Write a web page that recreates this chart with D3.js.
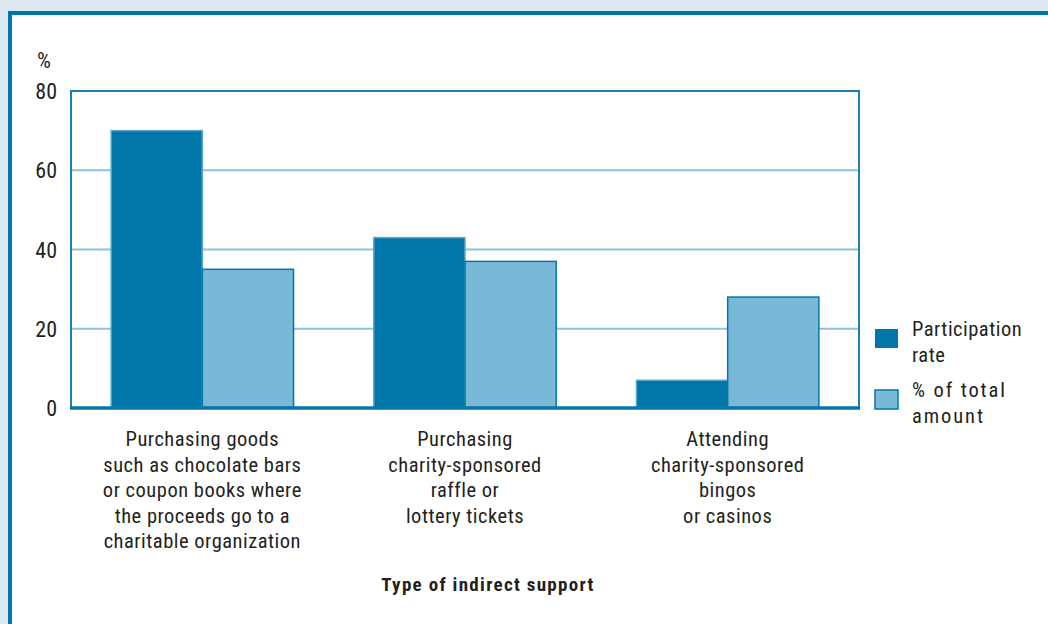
<!DOCTYPE html>
<html>
<head>
<meta charset="utf-8">
<script src="https://cdn.jsdelivr.net/npm/d3@7"></script>
<style>
  body { margin: 0; background: #dce9f3; }
  svg { display: block; }
  text { font-family: "Liberation Sans Narrow", "Roboto Condensed", Roboto, sans-serif; fill: #231f20; }
</style>
</head>
<body>
<script>
var width = 1048, height = 624;
var margin = {top: 91, left: 71, right: 189, bottom: 216};
var plotW = width - margin.left - margin.right;   // 788
var plotH = 408 - margin.top;                      // 317

// data
var categories = [
  ["Purchasing goods", "such as chocolate bars", "or coupon books where", "the proceeds go to a", "charitable organization"],
  ["Purchasing", "charity-sponsored", "raffle or", "lottery tickets"],
  ["Attending", "charity-sponsored", "bingos", "or casinos"]
];
var seriesNames = ["Participation rate", "% of total amount"];
var participation = [70, 43, 7];
var totalAmount = [35, 37, 28];
var yTicks = [0, 20, 40, 60, 80];

var colors = ["#0077a8", "#7ab8d8"];

var svg = d3.select("body").append("svg")
  .attr("width", width)
  .attr("height", height);

// outer frame
svg.append("rect")
  .attr("x", 10).attr("y", 13)
  .attr("width", 1100).attr("height", 700)
  .attr("fill", "#ffffff")
  .attr("stroke", "#0077a8")
  .attr("stroke-width", 4);

var g = svg.append("g")
  .attr("transform", "translate(" + margin.left + "," + margin.top + ")");

var x0 = d3.scaleBand()
  .domain(d3.range(categories.length))
  .range([0, plotW]);

var x1 = d3.scaleBand()
  .domain([0, 1])
  .range([0, x0.bandwidth()])
  .paddingOuter(0.44)
  .paddingInner(0);

var y = d3.scaleLinear()
  .domain([0, 80])
  .range([plotH, 0]);

// gridlines
g.selectAll(".grid")
  .data(yTicks.filter(function(d){ return d > 0 && d < 80; }))
  .enter().append("line")
  .attr("x1", 0).attr("x2", plotW)
  .attr("y1", function(d){ return y(d); })
  .attr("y2", function(d){ return y(d); })
  .attr("stroke", "#8cc4de")
  .attr("stroke-width", 2);

// bars
var rows = categories.map(function(c, i){
  return [participation[i], totalAmount[i]];
});

var groups = g.selectAll(".group")
  .data(rows)
  .enter().append("g")
  .attr("transform", function(d, i){ return "translate(" + x0(i) + ",0)"; });

groups.selectAll("rect")
  .data(function(d){ return d; })
  .enter().append("rect")
  .attr("x", function(d, j){ return x1(j); })
  .attr("y", function(d){ return y(d); })
  .attr("width", x1.bandwidth())
  .attr("height", function(d){ return plotH - y(d); })
  .attr("fill", function(d, j){ return colors[j]; })
  .attr("stroke", function(d, j){ return j === 0 ? "#5aa8cf" : "#0077a8"; })
  .attr("stroke-width", 1.5);

// plot frame
g.append("rect")
  .attr("x", 0).attr("y", 0)
  .attr("width", plotW).attr("height", plotH)
  .attr("fill", "none")
  .attr("stroke", "#1a80b2")
  .attr("stroke-width", 2);

// bottom axis line
g.append("line")
  .attr("x1", -1).attr("x2", plotW + 1)
  .attr("y1", plotH).attr("y2", plotH)
  .attr("stroke", "#0077a8")
  .attr("stroke-width", 3.5);

// y axis labels
var yAxis = d3.axisLeft(y)
  .tickValues(yTicks)
  .tickSize(0)
  .tickPadding(14);

g.append("g")
  .call(yAxis)
  .call(function(s){ s.select(".domain").remove(); })
  .selectAll("text")
  .style("font-size", "22px")
  .attr("dy", "0.35em")
  .attr("fill", "#231f20");

g.append("text")
  .attr("x", -34).attr("y", -23)
  .attr("text-anchor", "start")
  .style("font-size", "22px")
  .text("%");

// category labels
var labels = g.selectAll(".cat")
  .data(categories)
  .enter().append("text")
  .attr("text-anchor", "middle")
  .attr("transform", function(d, i){ return "translate(" + (x0(i) + x0.bandwidth() / 2) + "," + (plotH + 38) + ")"; })
  .style("font-size", "20.5px")
  .style("letter-spacing", "0.5px");

labels.selectAll("tspan")
  .data(function(d){ return d; })
  .enter().append("tspan")
  .attr("x", 0)
  .attr("dy", function(d, i){ return i === 0 ? 0 : 25.6; })
  .text(function(d){ return d; });

// axis title
svg.append("text")
  .attr("x", 488).attr("y", 591)
  .attr("text-anchor", "middle")
  .style("font-size", "19px")
  .style("font-weight", "bold")
  .style("letter-spacing", "1.3px")
  .text("Type of indirect support");

// legend
var legendLines = [["Participation", "rate"], ["% of total", "amount"]];
var legend = svg.selectAll(".legend")
  .data(seriesNames)
  .enter().append("g")
  .attr("transform", function(d, i){ return "translate(875," + (329 + i * 61) + ")"; });

legend.append("rect")
  .attr("width", 23).attr("height", 19)
  .attr("fill", function(d, i){ return colors[i]; })
  .attr("stroke", function(d, i){ return i === 0 ? "none" : "#0077a8"; })
  .attr("stroke-width", 1.5);

legend.append("text")
  .attr("x", 37).attr("y", 7)
  .style("font-size", "20.5px")
  .style("letter-spacing", function(d, i){ return i === 0 ? "0.5px" : "1.9px"; })
  .selectAll("tspan")
  .data(function(d, i){ return legendLines[i]; })
  .enter().append("tspan")
  .attr("x", 37)
  .attr("dy", function(d, i){ return i === 0 ? 0 : 25.5; })
  .text(function(d){ return d; });
</script>
</body>
</html>
